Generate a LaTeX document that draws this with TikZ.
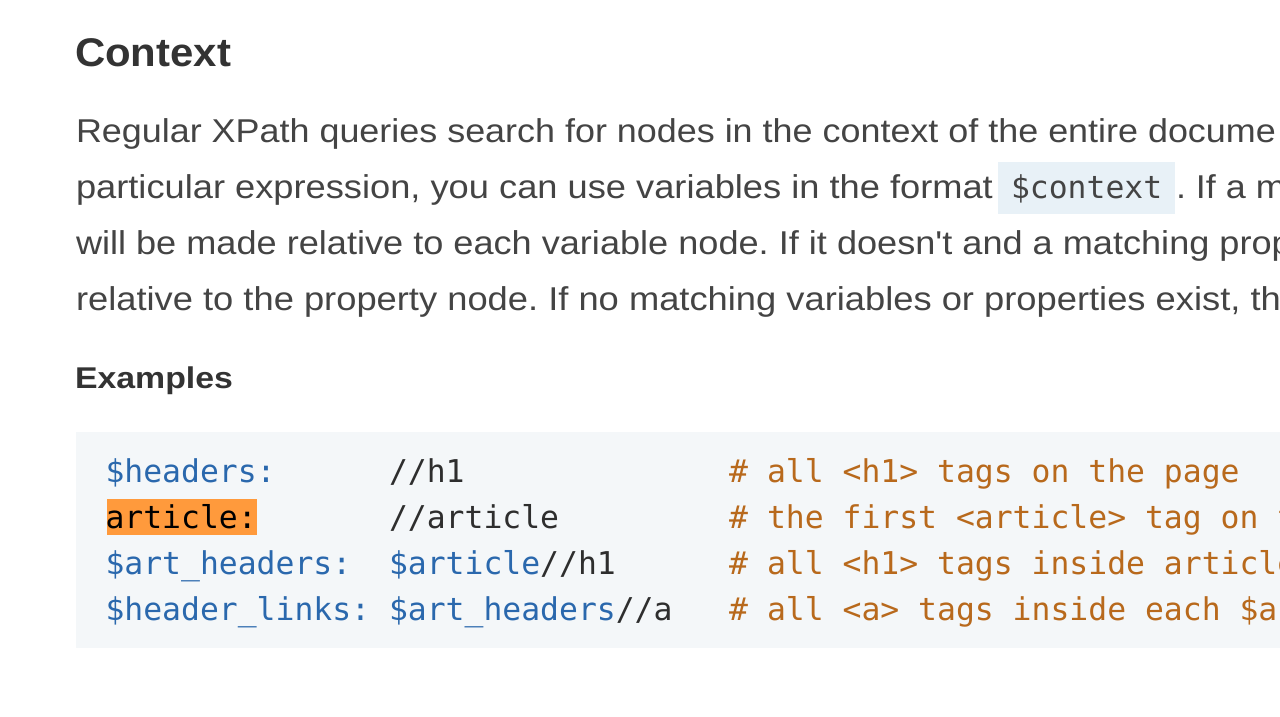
\documentclass[tikz,border=0pt]{standalone}
\usepackage{fontspec}
\usepackage{graphicx}
\setmainfont{Liberation Sans}
\newfontfamily\bodyfam{Liberation Sans}[Ligatures=TeXOff]
\newfontfamily\monofont{DejaVu Sans Mono}
\newfontfamily\headfont{Liberation Sans}
\definecolor{bodytext}{HTML}{444444}
\definecolor{headtext}{HTML}{333333}
\definecolor{codebg}{HTML}{F4F7F9}
\definecolor{inlinebg}{HTML}{E8F1F7}
\definecolor{varblue}{HTML}{2A68AD}
\definecolor{cmtorange}{HTML}{B8691C}
\definecolor{hlorange}{HTML}{FF9A3C}
\definecolor{codedark}{HTML}{2E2E2E}
\newcommand\bodyfnt{\bodyfam\fontsize{33}{40}\selectfont}
\newcommand\codefnt{\monofont\fontsize{31.4}{38}\selectfont}
\newlength\lenA
\newlength\lenB
\newlength\lenC
\newlength\fitlen
\newcommand\fitw[2]{\settowidth\fitlen{#2}\pgfmathsetmacro\fitr{#1/\fitlen}\scalebox{\fitr}[1]{#2}}
\tikzset{
  txt/.style={anchor=base west, inner sep=0pt, outer sep=0pt},
  bodyline/.style={txt, text=bodytext, font=\bodyfnt},
  codeline/.style={txt, font=\codefnt},
  varcode/.style={codeline, text=varblue},
  plaincode/.style={codeline, text=codedark},
  cmtcode/.style={codeline, text=cmtorange},
}
\begin{document}
\frenchspacing
\settowidth\lenA{\bodyfnt Regular XPath queries search for nodes in the context of the entire docume}%
\settowidth\lenB{\headfont\bfseries\fontsize{40}{48}\selectfont Context}%
\settowidth\lenC{\headfont\bfseries\fontsize{30}{36}\selectfont Examples}%
\pgfmathsetmacro\bodyr{1200/\lenA}%
\pgfmathsetmacro\headr{156/\lenB}%
\pgfmathsetmacro\subr{158/\lenC}%
\begin{tikzpicture}[x=1pt, y=-1pt]
\useasboundingbox (0,0) rectangle (1280,716);
\clip (0,0) rectangle (1280,716);
\fill[white] (0,0) rectangle (1280,716);
% headings
\node[txt, text=headtext, font=\headfont\bfseries\fontsize{40}{48}\selectfont] (title) at (75,66) {\scalebox{\headr}[1]{Context}};
% paragraph
\node[bodyline] (p1) at (76,142) {\scalebox{\bodyr}[1]{Regular XPath queries search for nodes in the context of the entire docume}};
\node[bodyline] (p2a) at (76,198) {\fitw{917}{particular expression, you can use variables in the format}};
\fill[inlinebg] (998,162) rectangle (1175,214);
\node[codeline, text=bodytext] (ctx) at (1011,198) {\$context};
\node[bodyline] (p2b) at (1176,198) {\scalebox{\bodyr}[1]{. If a m}};
\node[bodyline] (p3) at (76,254) {\fitw{1216}{will be made relative to each variable node. If it doesn't and a matching prop}};
\node[bodyline] (p4) at (76,310) {\fitw{1205}{relative to the property node. If no matching variables or properties exist, th}};
% subheading
\node[txt, text=headtext, font=\headfont\bfseries\fontsize{30}{36}\selectfont] (examples) at (75,388) {\scalebox{\subr}[1]{Examples}};
% code block
\fill[codebg] (76,432) rectangle (1290,648);
\fill[hlorange] (106.5,499) rectangle (257,535);
% line 1
\node[varcode] (l1a) at (105.5,482) {\$headers:};
\node[plaincode] (l1b) at (389,482) {//h1};
\node[cmtcode] (l1c) at (729.2,482) {\# all <h1> tags on the page};
% line 2
\node[codeline, text=black] (l2a) at (105.5,528) {article:};
\node[plaincode] (l2b) at (389,528) {//article};
\node[cmtcode] (l2c) at (729.2,528) {\# the first <article> tag on t};
% line 3
\node[varcode] (l3a) at (105.5,574) {\$art\_headers:};
\node[varcode] (l3b) at (389,574) {\$article};
\node[plaincode] (l3c) at (540.2,574) {//h1};
\node[cmtcode] (l3d) at (729.2,574) {\# all <h1> tags inside article};
% line 4
\node[varcode] (l4a) at (105.5,620) {\$header\_links:};
\node[varcode] (l4b) at (389,620) {\$art\_headers};
\node[plaincode] (l4c) at (615.8,620) {//a};
\node[cmtcode] (l4d) at (729.2,620) {\# all <a> tags inside each \$a};
\end{tikzpicture}
\end{document}
